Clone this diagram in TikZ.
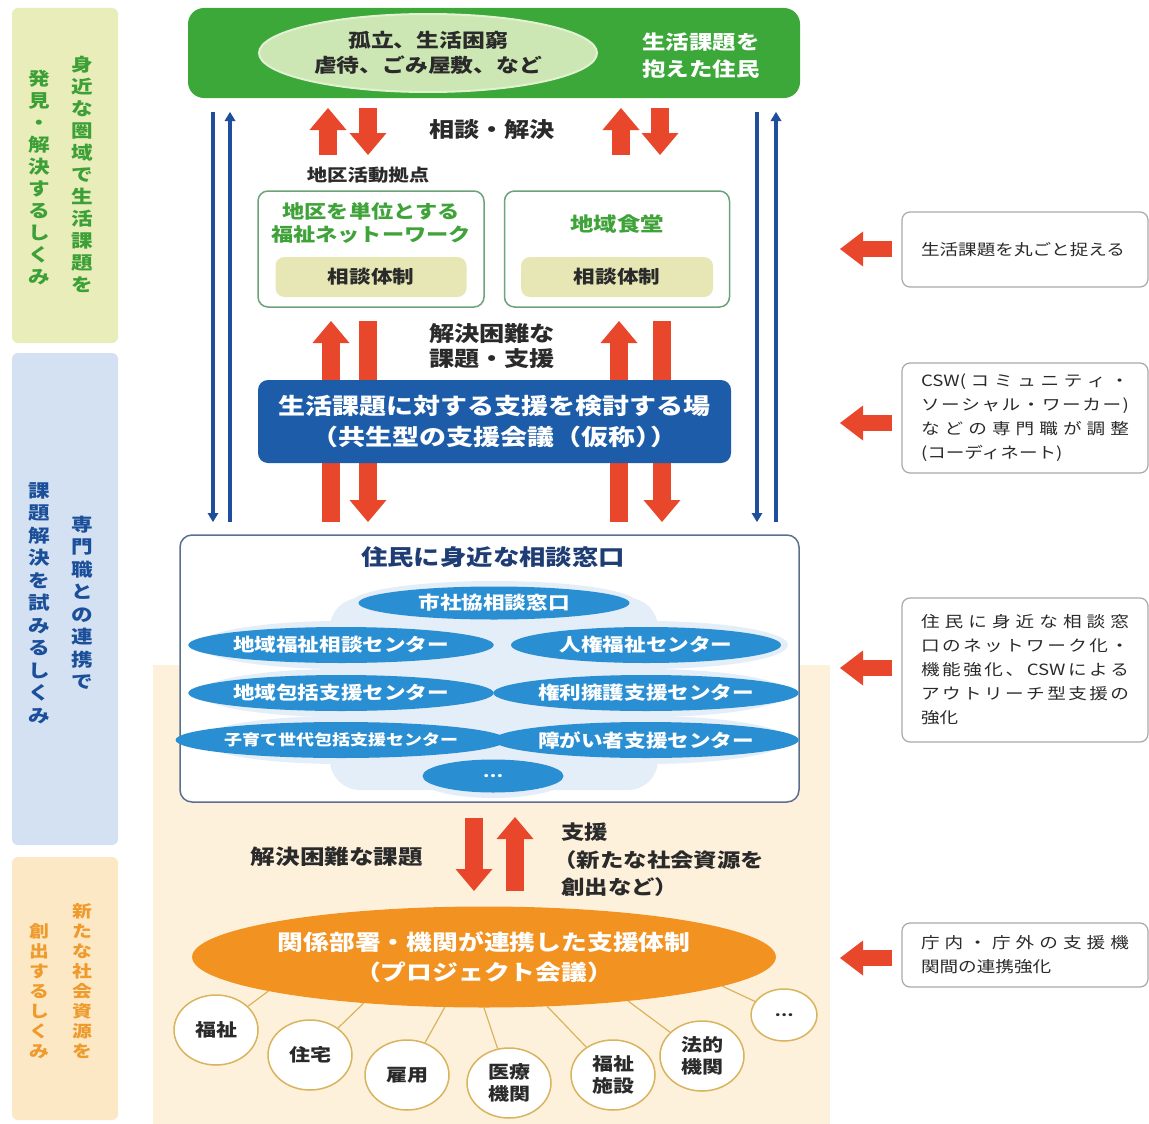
\documentclass[tikz,border=0pt]{standalone}
\usepackage{fontspec}
\newfontfamily\jp[FakeStretch=1.2]{Noto Sans CJK JP}
\usetikzlibrary{arrows.meta,shapes.geometric}
\definecolor{greenbar}{HTML}{E8EDBA}
\definecolor{greentext}{HTML}{3DA037}
\definecolor{bluebar}{HTML}{D3E1F3}
\definecolor{bluetext}{HTML}{1B4F9A}
\definecolor{orangebar}{HTML}{FDE8C6}
\definecolor{orangetext}{HTML}{EE9A2C}
\definecolor{panel}{HTML}{FEF1DC}
\definecolor{topg}{HTML}{3CA839}
\definecolor{ellg}{HTML}{CDE7B4}
\definecolor{boxgreen}{HTML}{6CA37A}
\definecolor{titleg}{HTML}{3FA33A}
\definecolor{pillc}{HTML}{E6E7B5}
\definecolor{supblue}{HTML}{1C5CA8}
\definecolor{bline}{HTML}{1E4E9C}
\definecolor{redarrow}{HTML}{E8472B}
\definecolor{sky}{HTML}{2A8FD2}
\definecolor{glow}{HTML}{E4EEF8}
\definecolor{navy}{HTML}{1F3D75}
\definecolor{boxborder}{HTML}{5B6F8F}
\definecolor{orell}{HTML}{F29221}
\definecolor{circb}{HTML}{D9B45E}
\definecolor{rbord}{HTML}{A9A9A9}
\definecolor{txt}{HTML}{2A2A2A}
\makeatletter
\newcommand\spreadto[2]{\leavevmode\hbox to #1{\@tfor\spr@c:=#2\do{\spr@c\hskip0pt plus 1fil}\unskip}}
\makeatother
\begin{document}
\begin{tikzpicture}[x=1pt,y=-1pt,
  every node/.style={inner sep=0pt},
  fsz/.style 2 args={font=\jp\bfseries\fontsize{#1}{#2}\selectfont},
  fmd/.style 2 args={font=\jp\fontsize{#1}{#2}\selectfont},
  vt/.style={align=center},
  gbox/.style={draw=boxgreen, line width=1.5pt, fill=white, rounded corners=10pt, minimum width=226pt, minimum height=116pt},
  pill/.style={fill=pillc, rounded corners=9pt, minimum width=191pt, minimum height=40pt, fsz={18}{22}, text=txt},
  skyell/.style={ellipse, fill=sky, text=white, minimum width=270pt, minimum height=36pt, fsz={18}{22}},
  glowell/.style={ellipse, fill=glow, minimum width=284pt, minimum height=48pt},
  circ/.style={ellipse, draw=circb, line width=1.5pt, fill=white, minimum width=84pt, minimum height=70pt, align=center, fsz={17.5}{22}, text=txt},
  cline/.style={draw=circb, line width=1.2pt},
  rbox/.style={draw=rbord, line width=1.2pt, fill=white, rounded corners=8pt, text width=208pt, inner xsep=19pt, align=left, fmd={15.5}{24}, text=txt},
  redarr/.style={draw=redarrow, line width=18pt, -{Triangle[length=22pt,width=37pt,line width=0pt]}},
  redarrh/.style={draw=redarrow, line width=16pt, -{Triangle[length=23pt,width=35pt,line width=0pt]}},
  bluel/.style={draw=bline, line width=4pt, -{Triangle[length=9pt,width=11pt,line width=0pt]}},
  lbl/.style={align=center, text=txt}
]
\useasboundingbox (0,0) rectangle (1149,1124);
\fill[white] (0,0) rectangle (1149,1124);

% ---------- left bars
\fill[greenbar, rounded corners=6pt] (12,8) rectangle (118,343);
\fill[bluebar, rounded corners=6pt] (12,353) rectangle (118,845);
\fill[orangebar, rounded corners=6pt] (12,857) rectangle (118,1120);
\node[vt, fsz={18}{22}, text=greentext] (g1) at (82,174) {身\\近\\な\\圏\\域\\で\\生\\活\\課\\題\\を};
\node[vt, fsz={18}{22}, text=greentext] (g2) at (39,178) {発\\見\\・\\解\\決\\す\\る\\し\\く\\み};
\node[vt, fsz={18}{22.5}, text=bluetext] (b1) at (82,603) {専\\門\\職\\と\\の\\連\\携\\で};
\node[vt, fsz={18}{22.5}, text=bluetext] (b2) at (39,603) {課\\題\\解\\決\\を\\試\\み\\る\\し\\く\\み};
\node[vt, fsz={16.5}{20}, text=orangetext] (o1) at (82,981) {新\\た\\な\\社\\会\\資\\源\\を};
\node[vt, fsz={16.5}{20}, text=orangetext] (o2) at (39,991) {創\\出\\す\\る\\し\\く\\み};

% ---------- orange panel
\fill[panel] (153,665) rectangle (830,1124);

% ---------- top green box
\node[fill=topg, rounded corners=16pt, minimum width=612pt, minimum height=90pt] (top) at (494,53) {};
\node[ellipse, fill=ellg, draw=ellg!60!white, line width=2pt, minimum width=338pt, minimum height=78pt, align=center, fsz={19}{25}, text=txt] (iss) at (428,53) {孤立、生活困窮\\虐待、ごみ屋敷、など};
\node[align=center, fsz={19.5}{27}, text=white] (res) at (701,56) {生活課題を\\抱えた住民};

% ---------- blue vertical lines
\coordinate (l1t) at (213,112); \coordinate (l1b) at (213,522);
\coordinate (l2t) at (230,112); \coordinate (l2b) at (230,522);
\coordinate (l3t) at (757,112); \coordinate (l3b) at (757,522);
\coordinate (l4t) at (776,112); \coordinate (l4b) at (776,522);
\draw[bluel] (l1t) -- (l1b);
\draw[bluel] (l2b) -- (l2t);
\draw[bluel] (l3t) -- (l3b);
\draw[bluel] (l4b) -- (l4t);

% ---------- red arrows top
\coordinate (a1b) at (328,155); \coordinate (a1t) at (328,108);
\coordinate (a2b) at (368,155); \coordinate (a2t) at (368,108);
\coordinate (a3b) at (621,155); \coordinate (a3t) at (621,108);
\coordinate (a4b) at (660,155); \coordinate (a4t) at (660,108);
\draw[redarr] (a1b) -- (a1t);
\draw[redarr] (a2t) -- (a2b);
\draw[redarr] (a3b) -- (a3t);
\draw[redarr] (a4t) -- (a4b);
\node[lbl, fsz={21}{25}] (sd) at (492,130) {相談・解決};
\node[lbl, fsz={17}{21}] (kat) at (368,175) {地区活動拠点};

% ---------- district boxes
\node[gbox] (k1) at (371,249) {};
\node[align=center, fsz={18.5}{23}, text=titleg] (k1t) at (371,223) {地区を単位とする\\福祉ネットーワーク};
\node[pill] (k1p) at (371,277) {相談体制};
\node[gbox, minimum width=225pt] (k2) at (617,249) {};
\node[align=center, fsz={19.5}{23}, text=titleg] (k2t) at (617,224) {地域食堂};
\node[pill, minimum width=192pt] (k2p) at (617,277) {相談体制};

% ---------- red arrows middle
\coordinate (m1b) at (331,522); \coordinate (m1t) at (331,321);
\coordinate (m2b) at (368,522); \coordinate (m2t) at (368,321);
\coordinate (m3b) at (619,522); \coordinate (m3t) at (619,321);
\coordinate (m4b) at (662,522); \coordinate (m4t) at (662,321);
\draw[redarr] (m1b) -- (m1t);
\draw[redarr] (m2t) -- (m2b);
\draw[redarr] (m3b) -- (m3t);
\draw[redarr] (m4t) -- (m4b);
\node[lbl, fsz={21}{25}] (kk) at (492,346) {解決困難な\\課題・支援};

% ---------- support meeting box
\node[fill=supblue, rounded corners=10pt, minimum width=473pt, minimum height=83pt, align=center, fsz={22.5}{31}, text=white] (sup) at (494.5,421.5) {生活課題に対する支援を検討する場\\（共生型の支援会議（仮称）\kern-0.55em）};

% ---------- consultation window box
\node[draw=boxborder, line width=1.5pt, fill=white, rounded corners=12pt, minimum width=619pt, minimum height=267pt] (win) at (489.5,668.5) {};
\fill[glow, rounded corners=30pt] (330,598) rectangle (658,790);
\node[glowell, minimum width=286pt, minimum height=44pt] (gw0) at (494,603) {};
\node[glowell] (gw1) at (341,645) {};
\node[glowell] (gw2) at (646,645) {};
\node[glowell] (gw3) at (341,693) {};
\node[glowell] (gw4) at (646,693) {};
\node[glowell] (gw5) at (341,740) {};
\node[glowell] (gw6) at (646,740) {};
\node[glowell, minimum width=156pt, minimum height=44pt] (gw7) at (493,776) {};
\node[lbl, fsz={22}{26}, text=navy] (wint) at (493,557) {住民に身近な相談窓口};
\node[skyell, minimum width=271pt, minimum height=33pt] (e0) at (494,603) {市社協相談窓口};
\node[skyell] (e1) at (341,645) {地域福祉相談センター};
\node[skyell] (e2) at (646,645) {人権福祉センター};
\node[skyell] (e3) at (341,693) {地域包括支援センター};
\node[skyell] (e4) at (646,693) {権利擁護支援センター};
\node[skyell, fsz={15}{20}] (e5) at (341,740) {子育て世代包括支援センター};
\node[skyell] (e6) at (646,740) {障がい者支援センター};
\node[skyell, minimum width=141pt, minimum height=33pt, fsz={15}{20}] (e7) at (493,776) {…};

% ---------- bottom arrows
\coordinate (d1t) at (474,818); \coordinate (d1b) at (474,891);
\coordinate (d2t) at (515,817); \coordinate (d2b) at (515,891);
\draw[redarr] (d1t) -- (d1b);
\draw[redarr] (d2b) -- (d2t);
\node[lbl, fsz={20.5}{25}] (kd) at (337,857) {解決困難な課題};
\node[align=left, anchor=west, fsz={19.5}{27.5}, text=txt] (sh) at (561,860) {支援\\\kern-0.4em（新たな社会資源を\\創出など）};

% ---------- project meeting
\node[ellipse, fill=orell, minimum width=521pt, minimum height=101pt, align=center, fsz={21.5}{30}, text=white] (pj) at (484,957) {関係部署・機関が連携した支援体制\\（プロジェクト会議）};
\node[circ] (c1) at (216,1030) {福祉};
\node[circ] (c2) at (310,1055) {住宅};
\node[circ] (c3) at (407,1075) {雇用};
\node[circ] (c4) at (509,1083) {医療\\機関};
\node[circ] (c5) at (613,1075) {福祉\\施設};
\node[circ] (c6) at (702,1056) {法的\\機関};
\node[circ, minimum width=66pt, minimum height=52pt, fsz={14}{18}] (c7) at (784,1015) {…};
\draw[cline] (c1) -- (pj.189);
\draw[cline] (c2) -- (pj.201);
\draw[cline] (c3) -- (pj.232);
\draw[cline] (c4) -- (pj.270);
\draw[cline] (c5) -- (pj.322);
\draw[cline] (c6) -- (pj.343);
\draw[cline] (c7) -- (pj.353);

% ---------- right side boxes
\node[rbox, minimum height=75pt] (r1) at (1025,249.5) {生活課題を丸ごと捉える};
\node[rbox, minimum height=110pt] (r2) at (1025,418) {\spreadto{208pt}{{CSW(}コミュニティ・}\\\spreadto{208pt}{ソーシャル・ワーカー)}\\\spreadto{208pt}{などの専門職が調整}\\(コーディネート)};
\node[rbox, minimum height=144pt] (r3) at (1025,670) {\spreadto{208pt}{住民に身近な相談窓}\\\spreadto{208pt}{口のネットワーク化・}\\\spreadto{208pt}{機能強化、{CSW}による}\\\spreadto{208pt}{アウトリーチ型支援の}\\強化};
\node[rbox, minimum height=64pt] (r4) at (1025,955) {\spreadto{208pt}{庁内・庁外の支援機}\\関間の連携強化};
\coordinate (q1) at (840,249); \coordinate (q2) at (840,423);
\coordinate (q3) at (840,668); \coordinate (q4) at (840,958);
\draw[redarrh] (r1.west |- q1) ++(-9,0) -- (q1);
\draw[redarrh] (r2.west |- q2) ++(-9,0) -- (q2);
\draw[redarrh] (r3.west |- q3) ++(-9,0) -- (q3);
\draw[redarrh] (r4.west |- q4) ++(-9,0) -- (q4);
\end{tikzpicture}
\end{document}
